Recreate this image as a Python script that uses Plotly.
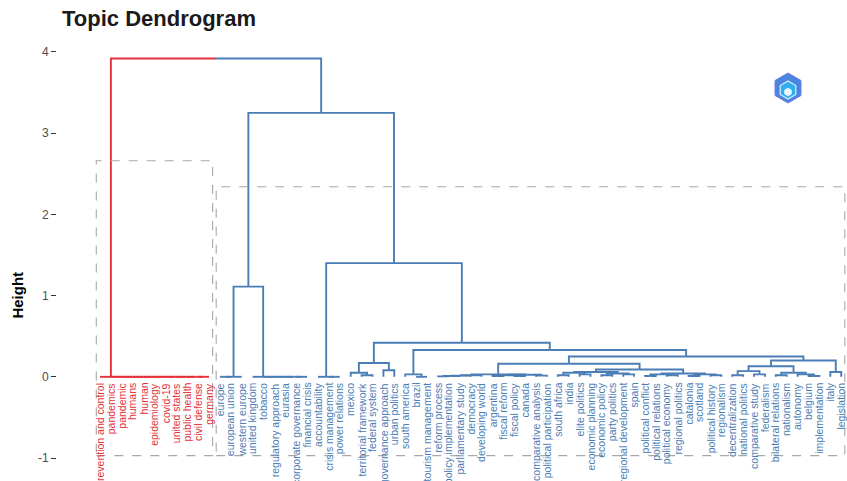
import math
import plotly.graph_objects as go

# ---------------- data ----------------
labels = [
    "prevention and control", "pandemics", "pandemic", "humans", "human",
    "epidemiology", "covid-19", "united states", "public health", "civil defense",
    "germany",
    "europe", "european union", "western europe", "united kingdom", "tobacco",
    "regulatory approach", "eurasia", "corporate governance", "financial crisis",
    "accountability", "crisis management", "power relations", "mexico",
    "territorial framework", "federal system", "governance approach", "urban politics",
    "south america", "brazil", "tourism management", "reform process",
    "policy implementation", "parliamentary study", "democracy", "developing world",
    "argentina", "fiscal reform", "fiscal policy", "canada", "comparative analysis",
    "political participation", "south africa", "india", "elite politics",
    "economic planning", "economic policy", "party politics", "regional development",
    "spain", "political conflict", "political relations", "political economy",
    "regional politics", "catalonia", "scotland", "political history", "regionalism",
    "decentralization", "national politics", "comparative study", "federalism",
    "bilateral relations", "nationalism", "autonomy", "belgium", "implementation",
    "italy", "legislation",
]

# hclust-style merge table: negative = leaf position (1-based), positive = earlier merge row
merge_left = [-10, -9, -8, -7, -6, -5, -4, -3, -2, -1,
              -12, 11, -19, -18, -17, -16, -15, 12,
              -22, -21, -25, -24, -27, 22,
              -30, -29,
              -32, 27, 28, 29, -37, -39, 31, -41, 33, 30,
              -43, -45, 37, -47, -49, 40, 39,
              -51, -53, 44, -55, -57, 47, 46,
              43, 36,
              -59, -61, 53, -63, -66, -65, 56, 55, -68, 60,
              52, 26, 24, 20, 18, 10]
merge_right = [-11, 1, 2, 3, 4, 5, 6, 7, 8, 9,
               -13, -14, -20, 13, 14, 15, 16, 17,
               -23, 19, -26, 21, -28, 23,
               -31, 25,
               -33, -34, -35, -36, -38, -40, 32, -42, 34, 35,
               -44, -46, 38, -48, -50, 41, 42,
               -52, -54, 45, -56, -58, 48, 49,
               50, 51,
               -60, -62, 54, -64, -67, 57, 58, 59, -69, 61,
               62, 63, 64, 65, 66, 67]
merge_height = [0.0, 0.0, 0.0, 0.0, 0.0, 0.0, 0.0, 0.0, 0.0, 0.0,
                0.0, 0.0, 0.0, 0.0, 0.0, 0.0, 0.0, 1.11,
                0.0, 0.0, 0.02, 0.05, 0.08, 0.17,
                0.0, 0.03,
                0.005, 0.01, 0.015, 0.02, 0.01, 0.01, 0.02, 0.015, 0.025, 0.03,
                0.02, 0.03, 0.05, 0.02, 0.03, 0.04, 0.06,
                0.01, 0.02, 0.03, 0.01, 0.02, 0.03, 0.04,
                0.09, 0.16,
                0.02, 0.03, 0.07, 0.02, 0.01, 0.03, 0.05, 0.13, 0.06, 0.2,
                0.25, 0.33, 0.42, 1.40, 3.25, 3.92]

cluster_sizes = [11, 58]
cluster_colors = ["#E4323A", "#4A7DB5"]
rect_top = [2.66, 2.34]
rect_bottom = -0.97
y_ticks = [-1, 0, 1, 2, 3, 4]

# ---------------- layout geometry ----------------
W, H = 847, 481
ML, MT = 57, 35
X0, X1 = -2.945, 69.53
Y0, Y1 = -1.283, 4.209
FONT = "Liberation Sans, Arial, Helvetica, sans-serif"

# ---------------- build dendrogram segments ----------------
leaf_color = []
for size, col in zip(cluster_sizes, cluster_colors):
    leaf_color += [col] * size

node_x, node_h, node_c = [], [], []
seg = {}
for k in range(len(merge_left)):
    kids = []
    for ref in (merge_left[k], merge_right[k]):
        if ref < 0:
            kids.append((-ref, 0.0, leaf_color[-ref - 1]))
        else:
            kids.append((node_x[ref - 1], node_h[ref - 1], node_c[ref - 1]))
    xk = (kids[0][0] + kids[1][0]) / 2
    hk = merge_height[k]
    for cx, ch, cc in kids:
        key = cc if cc else "#888888"
        xs, ys = seg.setdefault(key, ([], []))
        xs += [cx, cx, xk, None]
        ys += [ch, hk, hk, None]
    node_x.append(xk)
    node_h.append(hk)
    node_c.append(kids[0][2] if kids[0][2] == kids[1][2] else None)

fig = go.Figure()
for col, (xs, ys) in seg.items():
    fig.add_trace(go.Scatter(x=xs, y=ys, mode="lines",
                             line=dict(color=col, width=1.9),
                             hoverinfo="skip", showlegend=False))

# cluster rectangles
start = 0
for size, top in zip(cluster_sizes, rect_top):
    fig.add_shape(type="rect", xref="x", yref="y",
                  x0=start + 0.66, x1=start + size + 0.33,
                  y0=rect_bottom, y1=top,
                  line=dict(color="#A8A8A8", width=1.1, dash="dash"))
    start += size

# leaf labels
for i, lab in enumerate(labels):
    fig.add_annotation(x=i + 1, y=-0.05, xref="x", yref="y", text=lab,
                       textangle=-90, showarrow=False, xanchor="center", yanchor="top",
                       font=dict(size=10.5, color=leaf_color[i], family=FONT))

# y-axis title
fig.add_annotation(x=(18 - ML) / (W - ML), xref="paper", xanchor="center",
                   y=1.0, yref="y", yanchor="middle",
                   text="<b>Height</b>", textangle=-90, showarrow=False,
                   font=dict(size=15, color="#000000", family=FONT))

# small logo in top-right corner
def px2x(px):
    return X0 + (px - ML) / (W - ML) * (X1 - X0)

def py2y(py):
    return Y1 - (py - MT) / (H - MT) * (Y1 - Y0)

def hexpath(cx, cy, r):
    pts = []
    for a in range(6):
        ang = math.radians(90 + 60 * a)
        pts.append((px2x(cx + r * math.cos(ang)), py2y(cy - r * math.sin(ang))))
    return "M " + " L ".join(f"{x:.4f},{y:.4f}" for x, y in pts) + " Z"

fig.add_shape(type="path", xref="x", yref="y", path=hexpath(788, 88, 15),
              fillcolor="#4A86E0", line=dict(color="#6C7FE0", width=1))
fig.add_shape(type="path", xref="x", yref="y", path=hexpath(788, 90, 9),
              fillcolor="#2FB0EE", line=dict(color="#DDEFFF", width=1.2))
fig.add_shape(type="path", xref="x", yref="y", path=hexpath(788, 92, 4),
              fillcolor="#E8F6FF", line=dict(color="#FFFFFF", width=0.5))

fig.update_layout(
    width=W, height=H,
    margin=dict(l=ML, r=0, t=MT, b=0),
    paper_bgcolor="white", plot_bgcolor="white",
    title=dict(text="<b>Topic Dendrogram</b>", x=62 / W, xref="container",
               xanchor="left", y=1 - 18 / H, yref="container", yanchor="middle",
               font=dict(size=22, color="#1A1A1A", family=FONT)),
    xaxis=dict(range=[X0, X1], visible=False, fixedrange=True),
    yaxis=dict(range=[Y0, Y1], tickvals=y_ticks, ticktext=[str(t) for t in y_ticks],
               ticks="outside", ticklen=5, tickwidth=1, tickcolor="#333333",
               showgrid=False, zeroline=False, showline=False,
               tickfont=dict(size=12, color="#4D4D4D", family=FONT)),
)

fig.write_html("out.html", config={"displayModeBar": False},
               post_script="document.body.style.margin='0';document.body.style.overflow='hidden';")
